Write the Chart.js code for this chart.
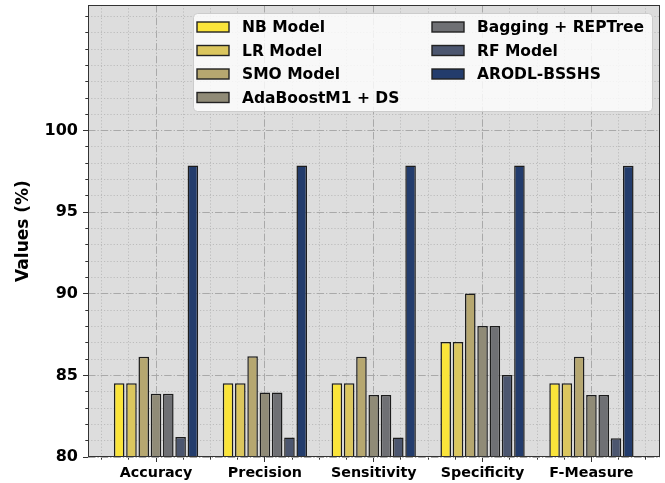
<!DOCTYPE html>
<html>
<head>
<meta charset="utf-8">
<script src="https://cdn.jsdelivr.net/npm/chart.js@4/dist/chart.umd.min.js"></script>
<style>
  html, body { margin: 0; padding: 0; background: #ffffff; }
  #wrap { width: 665px; height: 483px; position: relative; }
</style>
</head>
<body>
<div id="wrap"><canvas id="c" width="665" height="483"></canvas></div>
<script>
// Metric categories along the x axis
const categories = ['Accuracy', 'Precision', 'Sensitivity', 'Specificity', 'F-Measure'];

// Scores (%) of each model per metric
const nbModel      = [84.52, 84.52, 84.52, 87.05, 84.52];
const lrModel      = [84.52, 84.52, 84.52, 87.05, 84.52];
const smoModel     = [86.15, 86.18, 86.15, 90.02, 86.15];
const adaBoostDS   = [83.88, 83.95, 83.80, 88.03, 83.80];
const baggingREP   = [83.88, 83.95, 83.80, 88.03, 83.80];
const rfModel      = [81.22, 81.20, 81.20, 85.03, 81.15];
const arodlBsshs   = [97.87, 97.87, 97.87, 97.87, 97.85];

const seriesNames  = ['NB Model', 'LR Model', 'SMO Model', 'AdaBoostM1 + DS', 'Bagging + REPTree', 'RF Model', 'ARODL-BSSHS'];
const seriesValues = [nbModel, lrModel, smoModel, adaBoostDS, baggingREP, rfModel, arodlBsshs];
const seriesColors = ['#fae43a', '#dbc65e', '#b6a770', '#908b77', '#6f7074', '#4c566f', '#233c6c'];

// Y tick labels and axis limits
const yTickLabels = [80, 85, 90, 95, 100];
const yMin = 80;
const yMax = 107.7;

// Minor x ticks every quarter category; the bar ruler measures that spacing,
// so the group share is expressed per quarter step (4 x 0.79).
const X_MINOR_PER_CAT = 4;

const datasets = seriesNames.map((name, s) => ({
  label: name,
  data: categories.map((c, i) => ({ x: i, y: seriesValues[s][i] })),
  backgroundColor: seriesColors[s],
  borderColor: '#1c1c1c',
  borderWidth: 1.5,
  borderSkipped: false,
  categoryPercentage: 0.79 * X_MINOR_PER_CAT,
  barPercentage: 0.86
}));

const MAJOR_DASH = [7.5, 2, 1.2, 2];
const MINOR_DASH = [1.2, 2];

const isMajorX = (c) => !!c.tick && Number.isInteger(c.tick.value);
const isMajorY = (c) => !!c.tick && yTickLabels.includes(c.tick.value);

// Plot background, frame and two-column legend
const framePlugin = {
  id: 'frame',
  beforeDraw(chart) {
    const { ctx, chartArea: a } = chart;
    ctx.save();
    ctx.fillStyle = '#dddddd';
    ctx.fillRect(a.left, a.top, a.right - a.left, a.bottom - a.top);
    ctx.restore();
  },
  afterDatasetsDraw(chart) {
    const { ctx, chartArea: a } = chart;
    ctx.save();
    ctx.strokeStyle = '#333333';
    ctx.lineWidth = 1;
    ctx.strokeRect(Math.round(a.left) + 0.5, Math.round(a.top) + 0.5,
                   Math.round(a.right - a.left) - 1, Math.round(a.bottom - a.top) - 1);
    ctx.restore();
  },
  afterDraw(chart) {
    const { ctx, chartArea: a } = chart;
    const ds = chart.data.datasets;
    const boxRight = a.right - 8, boxTop = a.top + 8;
    const boxLeft = boxRight - 459, boxBottom = boxTop + 98;
    ctx.save();
    ctx.beginPath();
    ctx.roundRect(boxLeft + 0.5, boxTop + 0.5, boxRight - boxLeft, boxBottom - boxTop, 4);
    ctx.fillStyle = 'rgba(255,255,255,0.8)';
    ctx.fill();
    ctx.strokeStyle = '#cccccc';
    ctx.lineWidth = 1;
    ctx.stroke();

    ctx.font = 'bold 15.5px "DejaVu Sans"';
    ctx.textBaseline = 'middle';
    const rowsPerCol = 4;
    ds.forEach((d, k) => {
      const col = Math.floor(k / rowsPerCol);
      const row = k % rowsPerCol;
      const hx = boxLeft + 4 + col * 235;
      const cy = boxTop + 14 + row * 23.5;
      ctx.fillStyle = d.backgroundColor;
      ctx.fillRect(hx, cy - 5, 32, 10);
      ctx.strokeStyle = '#222222';
      ctx.lineWidth = 1.4;
      ctx.strokeRect(hx, cy - 5, 32, 10);
      ctx.fillStyle = '#000000';
      ctx.fillText(d.label, hx + 45, cy + 1);
    });
    ctx.restore();
  }
};

new Chart(document.getElementById('c'), {
  type: 'bar',
  data: { datasets },
  options: {
    responsive: false,
    animation: false,
    layout: { padding: { top: 5, right: 5, left: 0, bottom: 0 } },
    plugins: { legend: { display: false }, tooltip: { enabled: false } },
    scales: {
      x: {
        type: 'linear',
        offset: false,
        min: -0.625,
        max: 4.63,
        afterBuildTicks(scale) {
          const t = [];
          for (let k = -2; k <= 4.5 * X_MINOR_PER_CAT; k++) t.push({ value: k / X_MINOR_PER_CAT });
          scale.ticks = t;
        },
        afterFit(scale) {
          scale.height = 26;
          scale.paddingLeft = 0;
          scale.paddingRight = 0;
        },
        ticks: {
          autoSkip: false,
          maxRotation: 0,
          padding: 3,
          color: '#000000',
          font: { family: 'DejaVu Sans', size: 14.3, weight: 'bold' },
          callback: (v) => Number.isInteger(v) ? categories[v] : ''
        },
        grid: {
          offset: false,
          color: (c) => isMajorX(c) ? '#a9a9a9' : '#bcbcbc',
          lineWidth: 1,
          tickLength: 5,
          tickColor: '#333333',
          tickBorderDash: (c) => isMajorX(c) ? [] : [2.7, 100]
        },
        border: {
          display: false,
          dash: (c) => isMajorX(c) ? MAJOR_DASH : MINOR_DASH
        }
      },
      y: {
        min: yMin,
        max: yMax,
        afterBuildTicks(scale) {
          const t = [];
          for (let v = yMin; v <= Math.floor(yMax); v++) t.push({ value: v });
          scale.ticks = t;
        },
        afterFit(scale) {
          scale.width = 88;
          scale.paddingTop = 0;
          scale.paddingBottom = 0;
        },
        ticks: {
          autoSkip: false,
          padding: 5,
          color: '#000000',
          font: { family: 'DejaVu Sans', size: 16, weight: 'bold' },
          callback: (v) => yTickLabels.includes(v) ? String(v) : ''
        },
        title: {
          display: true,
          text: 'Values (%)',
          color: '#000000',
          font: { family: 'DejaVu Sans', size: 17, weight: 'bold' },
          padding: { top: 13, bottom: 0 }
        },
        grid: {
          color: (c) => isMajorY(c) ? '#a9a9a9' : '#bcbcbc',
          lineWidth: 1,
          tickLength: 5,
          tickColor: '#333333',
          tickBorderDash: (c) => isMajorY(c) ? [] : [0, 2.3, 2.7, 100]
        },
        border: {
          display: false,
          dash: (c) => isMajorY(c) ? MAJOR_DASH : MINOR_DASH
        }
      }
    }
  },
  plugins: [framePlugin]
});
</script>
</body>
</html>
